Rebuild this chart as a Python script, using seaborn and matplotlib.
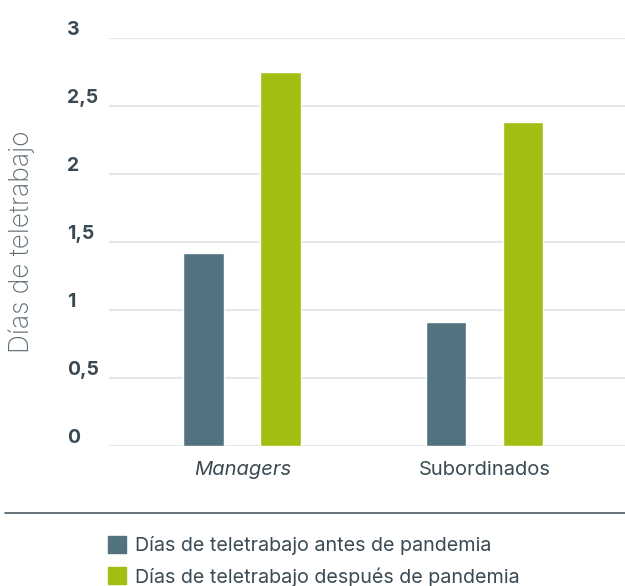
import pandas as pd
import matplotlib
matplotlib.use("Agg")
import matplotlib.pyplot as plt
import seaborn as sns
from matplotlib.lines import Line2D
from matplotlib.transforms import ScaledTranslation

# Data
groups = ["Managers", "Subordinados"]
antes = [1.42, 0.91]
despues = [2.75, 2.38]
series = ["Días de teletrabajo antes de pandemia", "Días de teletrabajo después de pandemia"]
y_ticks = [0, 0.5, 1, 1.5, 2, 2.5, 3]
y_labels = ["0", "0,5", "1", "1,5", "2", "2,5", "3"]

colors = ["#53727F", "#A3BE12"]
text_col = "#3A4A53"

df = pd.DataFrame({
    "grupo": groups * 2,
    "serie": [series[0]] * 2 + [series[1]] * 2,
    "dias": antes + despues,
})

sns.set_style("white")
plt.rcParams["font.family"] = ["Inter", "DejaVu Sans"]

fig = plt.figure(figsize=(6.25, 5.86), dpi=100)
ax = fig.add_axes([109 / 625, 1 - 446 / 586, 1 - 109 / 625, (446 - 38) / 586])

sns.barplot(data=df, x="grupo", y="dias", hue="serie", palette=colors,
            width=0.634, gap=0.47, ax=ax, legend=False, saturation=1)

ax.set_ylim(0, 3)
ax.set_xlim(-0.55, 1.58)
ax.set_yticks(y_ticks)
ax.set_yticklabels(y_labels, fontsize=14, fontweight="bold", color=text_col, ha="left")
ax.tick_params(axis="y", length=0, pad=30)
ax.tick_params(axis="x", length=0, pad=11)
for lab in ax.get_yticklabels():
    lab.set_transform(lab.get_transform() + ScaledTranslation(0, 10 / 100, fig.dpi_scale_trans))

ax.set_xticks([0, 1])
ax.set_xticklabels(groups, fontsize=14.5, color=text_col)
ax.get_xticklabels()[0].set_style("italic")

ax.set_xlabel("")
ax.set_ylabel("Días de teletrabajo", fontsize=19, color="#5E6D75", fontweight="light")
ax.yaxis.set_label_coords(-(109 - 22) / 516, 0.5)
ax.yaxis.label.set_va("center")

ax.grid(axis="y", color="#E3E7EA", linewidth=1.5)
ax.set_axisbelow(True)
for s in ax.spines.values():
    s.set_visible(False)

# separator line above legend
fig.add_artist(Line2D([5 / 625, 1], [1 - 513 / 586] * 2, transform=fig.transFigure,
                      color="#4A5960", linewidth=1.2))

handles = [plt.Rectangle((0, 0), 1, 1, color=c) for c in colors]
fig.legend(handles, series, loc="upper left", bbox_to_anchor=(108 / 625, 1 - 536 / 586),
           frameon=False, fontsize=14.2, labelcolor=text_col, handlelength=0.9,
           handleheight=0.95, handletextpad=0.45, labelspacing=0.6, borderpad=0,
           borderaxespad=0)

fig.savefig("out.png", dpi=100)
